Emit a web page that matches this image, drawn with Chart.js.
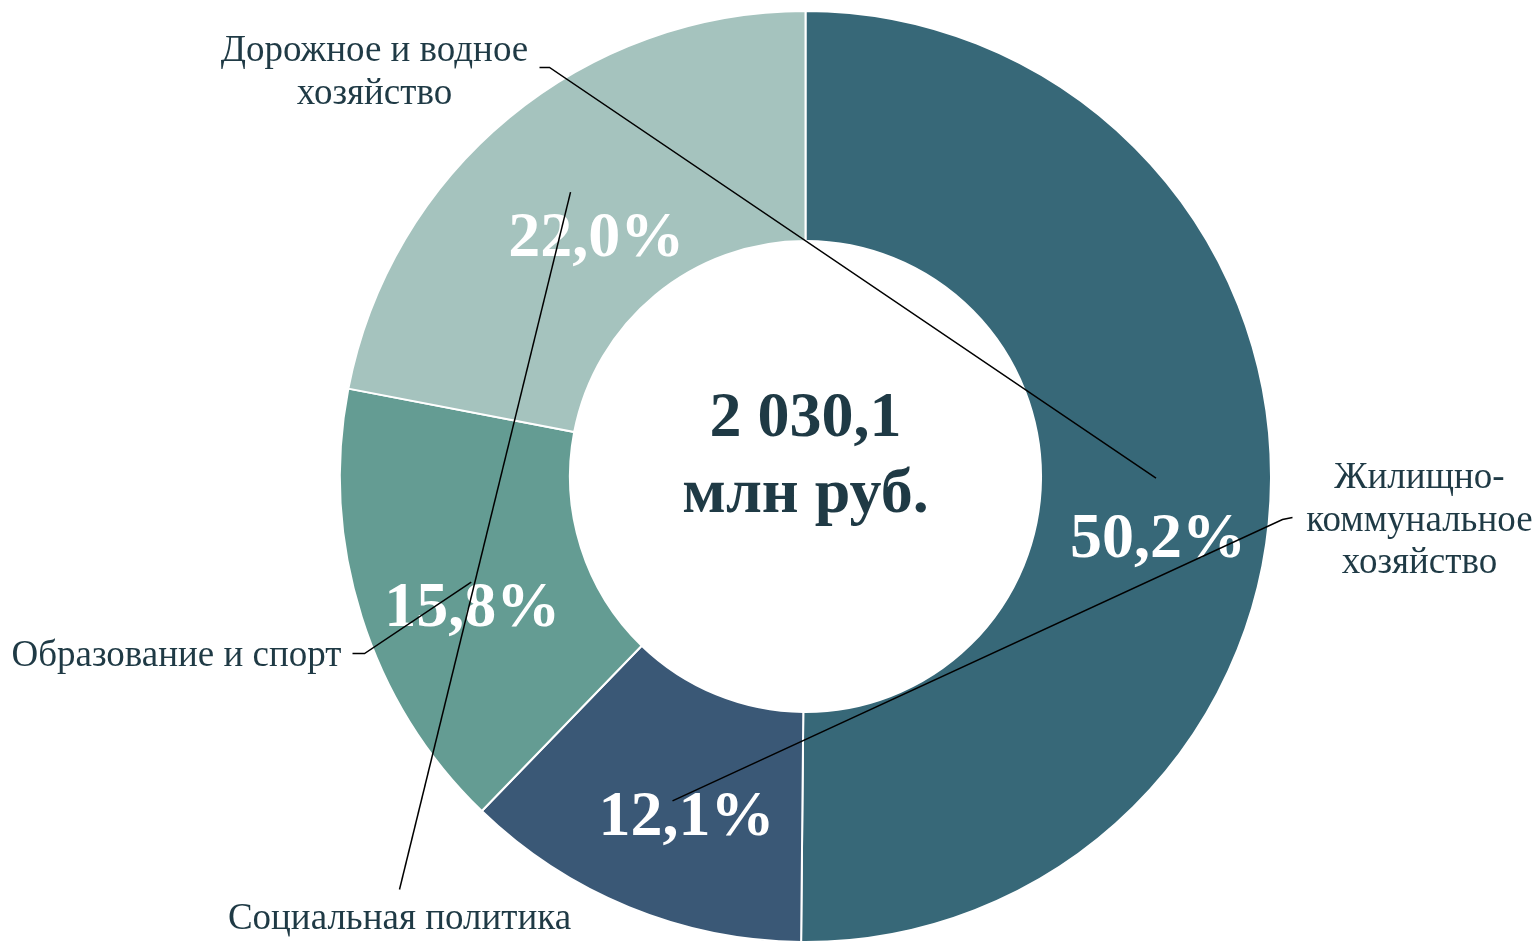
<!DOCTYPE html>
<html>
<head>
<meta charset="utf-8">
<script src="https://cdn.jsdelivr.net/npm/chart.js@4/dist/chart.umd.min.js"></script>
<style>
  html, body { margin: 0; padding: 0; background: #fff; }
  #wrap { width: 1539px; height: 943px; }
</style>
</head>
<body>
<div id="wrap"><canvas id="c"></canvas></div>
<script>
const categories = ['Жилищно-коммунальное хозяйство', 'Социальная политика', 'Образование и спорт', 'Дорожное и водное хозяйство'];
const shares = [50.2, 12.1, 15.8, 22.0];
const shareLabels = ['50,2%', '12,1%', '15,8%', '22,0%'];
const colors = ['#376878', '#3a5876', '#649c93', '#a5c3be'];
const totalLines = ['2 030,1', 'млн руб.'];
// segment each category's leader line points at, as it is drawn in the source
const leaderTarget = [1, 3, 2, 0];

const textColor = '#1f3a45';
const serif = '"Liberation Serif", "Times New Roman", serif';

// label layout, offsets from the ring centre in px
const pctOffset = [[2, 62], [14, 18], [1, 27], [14, 33]];
const outside = [
  { lines: ['Жилищно-', 'коммунальное', 'хозяйство'], x: 614, y: 2, align: 'center', start: [487, 41], elbow: [477, 43], r: 0.5 },
  { lines: ['Социальная политика'], x: -406, y: 443, align: 'center', start: [-406, 413], elbow: null, r: 0.58 },
  { lines: ['Образование и спорт'], x: -794, y: 180, align: 'left', start: [-453, 177], elbow: [-441, 177], r: 0.5 },
  { lines: ['Дорожное и водное', 'хозяйство'], x: -431, y: -425, align: 'center', start: [-266, -409], elbow: [-256, -409], r: 0.5 }
];

function arcPoint(arc, frac) {
  const a = (arc.startAngle + arc.endAngle) / 2;
  const r = arc.innerRadius + (arc.outerRadius - arc.innerRadius) * frac;
  return [arc.x + Math.cos(a) * r, arc.y + Math.sin(a) * r];
}

const labelsPlugin = {
  id: 'labels',
  afterDraw(chart) {
    const ctx = chart.ctx;
    const arcs = chart.getDatasetMeta(0).data;
    const cx = arcs[0].x, cy = arcs[0].y;
    ctx.save();

    // percentages
    ctx.fillStyle = '#fff';
    ctx.font = 'bold 64px ' + serif;
    ctx.textAlign = 'center';
    ctx.textBaseline = 'middle';
    arcs.forEach((arc, i) => {
      const p = arcPoint(arc, 0.5);
      ctx.fillText(shareLabels[i], p[0] + pctOffset[i][0], p[1] + pctOffset[i][1]);
    });

    // total in the hole
    ctx.fillStyle = textColor;
    ctx.font = 'bold 64px ' + serif;
    ctx.fillText(totalLines[0], cx, cy - 57);
    ctx.fillText(totalLines[1], cx, cy + 19);

    // leader lines
    ctx.strokeStyle = '#000';
    ctx.lineWidth = 1.5;
    outside.forEach((o, i) => {
      const end = arcPoint(arcs[leaderTarget[i]], o.r);
      ctx.beginPath();
      ctx.moveTo(cx + o.start[0], cy + o.start[1]);
      if (o.elbow) ctx.lineTo(cx + o.elbow[0], cy + o.elbow[1]);
      ctx.lineTo(end[0], end[1]);
      ctx.stroke();
    });

    // category names
    ctx.fillStyle = textColor;
    ctx.font = '37px ' + serif;
    outside.forEach(o => {
      ctx.textAlign = o.align;
      o.lines.forEach((t, k) => ctx.fillText(t, cx + o.x, cy + o.y + k * 42.5));
    });
    ctx.restore();
  }
};

new Chart(document.getElementById('c'), {
  type: 'doughnut',
  data: {
    labels: categories,
    datasets: [{
      data: shares,
      backgroundColor: colors,
      borderColor: '#fff',
      borderWidth: 2
    }]
  },
  options: {
    responsive: true,
    maintainAspectRatio: false,
    animation: false,
    cutout: '50.6%',
    layout: { padding: { left: 72, right: 0, top: 10, bottom: 0 } },
    plugins: { legend: { display: false }, tooltip: { enabled: false } }
  },
  plugins: [labelsPlugin]
});
</script>
</body>
</html>
